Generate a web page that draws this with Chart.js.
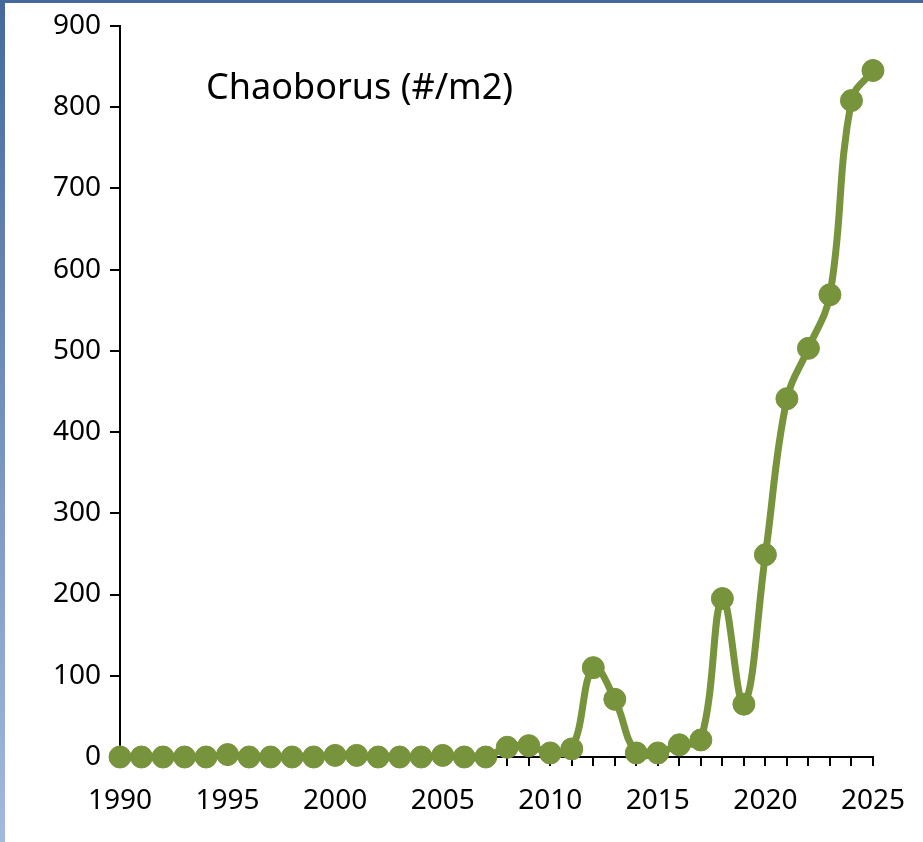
<!DOCTYPE html>
<html lang="en">
<head>
  <meta charset="UTF-8">
  <title>Chaoborus</title>
  <style>
    html, body {
      margin: 0;
      padding: 0;
      background: #ffffff;
    }
    #frame {
      position: relative;
      width: 923px;
      height: 842px;
      overflow: hidden;
    }
    /* blue edge along the top and the left side */
    #topEdge {
      position: absolute;
      left: 0; top: 0;
      width: 923px; height: 3px;
      background: #45699c;
    }
    #leftEdge {
      position: absolute;
      left: 0; top: 0;
      width: 5px; height: 842px;
      background: linear-gradient(to bottom, #46699d, #a3badf);
    }
    #chartCanvas {
      position: absolute;
      left: 0; top: 0;
    }
  </style>
  <script src="https://cdn.jsdelivr.net/npm/chart.js"></script>
</head>
<body>
  <div id="frame">
    <canvas id="chartCanvas" width="923" height="842"></canvas>
    <div id="topEdge"></div>
    <div id="leftEdge"></div>
  </div>

  <script>
    // chart data
    const years = [
      1990, 1991, 1992, 1993, 1994, 1995, 1996, 1997, 1998, 1999,
      2000, 2001, 2002, 2003, 2004, 2005, 2006, 2007, 2008, 2009,
      2010, 2011, 2012, 2013, 2014, 2015, 2016, 2017, 2018, 2019,
      2020, 2021, 2022, 2023, 2024, 2025
    ];
    const chaoborus = [
      0, 0, 0, 0, 0, 3, 0, 0, 0, 0,
      2, 2, 0, 0, 0, 2, 0, 0, 12, 14,
      5, 10, 110, 71, 5, 5, 15, 21, 195, 65,
      249, 441, 503, 569, 808, 845
    ];
    const labelYears = [1990, 1995, 2000, 2005, 2010, 2015, 2020, 2025];
    const yTicks = [0, 100, 200, 300, 400, 500, 600, 700, 800, 900];
    const chartTitle = 'Chaoborus (#/m2)';

    const green = '#77933c';
    const fontFamily = '"Noto Sans", "Open Sans", sans-serif';

    // draws the title inside the plot area
    const insideTitle = {
      id: 'insideTitle',
      afterDraw(chart) {
        const ctx = chart.ctx;
        const x = chart.scales.x.getPixelForValue(1994);
        const y = chart.scales.y.getPixelForValue(822);
        ctx.save();
        ctx.font = '36px ' + fontFamily;
        ctx.fillStyle = '#000000';
        ctx.textAlign = 'left';
        ctx.textBaseline = 'middle';
        ctx.fillText(chartTitle, x, y);
        ctx.restore();
      }
    };

    const ctx = document.getElementById('chartCanvas').getContext('2d');
    const chart = new Chart(ctx, {
      type: 'line',
      data: {
        datasets: [{
          label: chartTitle,
          data: years.map((yr, i) => ({ x: yr, y: chaoborus[i] })),
          borderColor: green,
          backgroundColor: green,
          borderWidth: 7,
          tension: 0.4,
          pointRadius: 11,
          pointBorderWidth: 1,
          pointBorderColor: green,
          pointBackgroundColor: green,
          clip: false
        }]
      },
      plugins: [insideTitle],
      options: {
        responsive: false,
        animation: false,
        devicePixelRatio: 1,
        layout: {
          padding: { top: 23, right: 45, bottom: 15, left: 0 }
        },
        elements: {
          line: { capBezierPoints: false }
        },
        plugins: {
          legend: { display: false },
          title: { display: false },
          tooltip: { enabled: false }
        },
        scales: {
          x: {
            type: 'linear',
            min: 1990,
            max: 2025,
            afterFit(scale) { scale.height = 70; },
            border: { color: '#000000', width: 2 },
            grid: {
              drawOnChartArea: false,
              drawTicks: true,
              tickLength: 9,
              color: '#000000',
              lineWidth: 2
            },
            ticks: {
              stepSize: 1,
              autoSkip: false,
              maxRotation: 0,
              padding: 18,
              color: '#000000',
              font: { family: fontFamily, size: 28 },
              callback: v => labelYears.includes(v) ? String(v) : ''
            }
          },
          y: {
            min: 0,
            max: 900,
            afterFit(scale) { scale.width = 120; },
            afterBuildTicks(scale) {
              scale.ticks = yTicks.map(v => ({ value: v }));
            },
            border: { color: '#000000', width: 2 },
            grid: {
              drawOnChartArea: false,
              drawTicks: true,
              tickLength: 10,
              color: '#000000',
              lineWidth: 2
            },
            ticks: {
              padding: 9,
              color: '#000000',
              font: { family: fontFamily, size: 28 }
            }
          }
        }
      }
    });
  </script>
</body>
</html>
